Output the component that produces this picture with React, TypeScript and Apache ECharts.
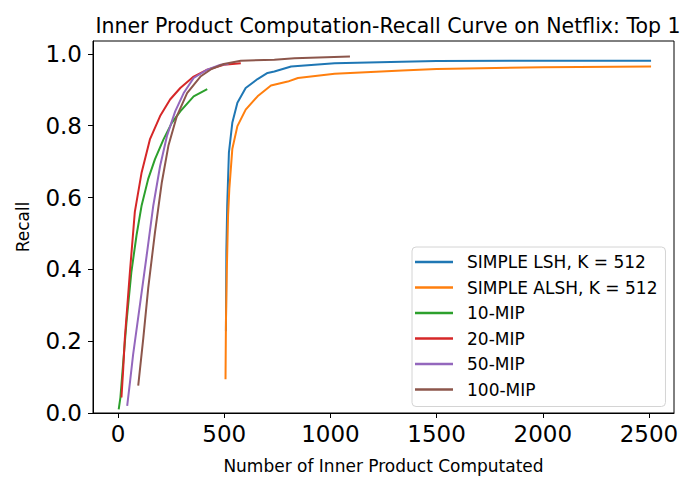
import React, { useEffect, useRef } from "react";
import * as echarts from "echarts";

// Recall vs. number of inner products computed, Netflix top-1
const lshX = [508, 510, 514, 522, 538, 562, 601, 657, 704, 736, 815, 862, 1020, 1337, 1500, 2000, 2510];
const lshY = [0.228, 0.45, 0.578, 0.725, 0.808, 0.864, 0.905, 0.93, 0.947, 0.951, 0.965, 0.967, 0.974, 0.978, 0.98, 0.981, 0.981];

const alshX = [506, 508, 512, 518, 524, 538, 562, 601, 657, 720, 799, 847, 1020, 1337, 1500, 2000, 2510];
const alshY = [0.094, 0.25, 0.394, 0.55, 0.624, 0.735, 0.799, 0.845, 0.882, 0.912, 0.923, 0.933, 0.945, 0.954, 0.958, 0.963, 0.965];

const mip10X = [3, 11, 21, 40, 63, 87, 111, 142, 174, 214, 253, 293, 356, 420];
const mip10Y = [0.01, 0.043, 0.117, 0.255, 0.394, 0.495, 0.578, 0.652, 0.707, 0.762, 0.808, 0.84, 0.882, 0.902];

const mip20X = [16, 24, 32, 56, 79, 111, 150, 198, 245, 293, 356, 420, 498, 578];
const mip20Y = [0.043, 0.12, 0.209, 0.394, 0.56, 0.67, 0.762, 0.827, 0.873, 0.905, 0.937, 0.956, 0.97, 0.974];

const mip50X = [43, 57, 71, 103, 135, 166, 198, 230, 269, 309, 356, 420, 483, 520];
const mip50Y = [0.02, 0.09, 0.163, 0.301, 0.44, 0.578, 0.688, 0.771, 0.84, 0.891, 0.933, 0.956, 0.97, 0.972];

const mip100X = [95, 119, 142, 174, 206, 237, 277, 325, 388, 440, 498, 578, 736, 831, 1092];
const mip100Y = [0.076, 0.209, 0.348, 0.504, 0.642, 0.744, 0.827, 0.891, 0.937, 0.958, 0.972, 0.981, 0.984, 0.988, 0.993];

const seriesNames = [
  "SIMPLE LSH, K = 512",
  "SIMPLE ALSH, K = 512",
  "10-MIP",
  "20-MIP",
  "50-MIP",
  "100-MIP",
];
const seriesColors = ["#1f77b4", "#ff7f0e", "#2ca02c", "#d62728", "#9467bd", "#8c564b"];

const xTicks = [0, 500, 1000, 1500, 2000, 2500];
const yTicks = [0, 0.2, 0.4, 0.6, 0.8, 1.0];

const FONT = "DejaVu Sans";

const zip = (xs: number[], ys: number[]) => xs.map((x, i) => [x, ys[i]]);

export default function App() {
  const ref = useRef<HTMLDivElement>(null);

  useEffect(() => {
    if (!ref.current) return;
    const chart = echarts.init(ref.current, undefined, { renderer: "svg" });
    const curves = [
      zip(lshX, lshY),
      zip(alshX, alshY),
      zip(mip10X, mip10Y),
      zip(mip20X, mip20Y),
      zip(mip50X, mip50Y),
      zip(mip100X, mip100Y),
    ];

    chart.setOption({
      animation: false,
      backgroundColor: "#ffffff",
      textStyle: { fontFamily: FONT },
      title: {
        text: "Inner Product Computation-Recall Curve on Netflix: Top 1",
        left: 383,
        top: 10,
        textAlign: "center",
        textStyle: { fontFamily: FONT, fontSize: 20.5, fontWeight: "normal", color: "#000" },
      },
      grid: {
        left: 93,
        right: 25,
        top: 41,
        bottom: 64,
        show: true,
        borderColor: "#000",
        borderWidth: 1,
        backgroundColor: "transparent",
      },
      legend: {
        orient: "vertical",
        left: 412,
        top: 247,
        data: seriesNames,
        icon: "rect",
        itemWidth: 38,
        itemHeight: 2.5,
        itemGap: 5.5,
        padding: [5, 8, 7, 3],
        borderColor: "#d4d4d4",
        borderWidth: 1,
        borderRadius: 4,
        backgroundColor: "rgba(255,255,255,0.8)",
        textStyle: {
          fontFamily: FONT,
          fontSize: 17,
          color: "#000",
          lineHeight: 20,
          padding: [0, 0, 0, 9],
        },
      },
      xAxis: {
        type: "value",
        min: -118,
        max: 2618,
        name: "Number of Inner Product Computated",
        nameLocation: "middle",
        nameGap: 44,
        nameTextStyle: { fontFamily: FONT, fontSize: 17, color: "#000" },
        axisLine: { show: true, onZero: false, lineStyle: { color: "#000", width: 1 } },
        axisTick: { show: true, length: 5, customValues: xTicks, lineStyle: { color: "#000" } },
        axisLabel: {
          customValues: xTicks,
          fontFamily: FONT,
          fontSize: 23,
          color: "#000",
          margin: 9,
          formatter: (v: number) => String(Math.round(v)),
        },
        splitLine: { show: false },
      },
      yAxis: {
        type: "value",
        min: 0,
        max: 1.036,
        name: "Recall",
        nameLocation: "middle",
        nameGap: 62,
        nameRotate: 90,
        nameTextStyle: { fontFamily: FONT, fontSize: 17, color: "#000" },
        axisLine: { show: true, onZero: false, lineStyle: { color: "#000", width: 1 } },
        axisTick: { show: true, length: 5, customValues: yTicks, lineStyle: { color: "#000" } },
        axisLabel: {
          customValues: yTicks,
          fontFamily: FONT,
          fontSize: 23,
          color: "#000",
          margin: 11,
          formatter: (v: number) => v.toFixed(1),
        },
        splitLine: { show: false },
      },
      series: curves.map((data, i) => ({
        name: seriesNames[i],
        type: "line",
        data,
        showSymbol: false,
        symbol: "none",
        color: seriesColors[i],
        lineStyle: { width: 2, color: seriesColors[i] },
        z: 2 + i,
      })),
    });

    return () => chart.dispose();
  }, []);

  return (
    <div
      ref={ref}
      style={{ position: "fixed", left: 0, top: 0, width: 699, height: 479, background: "#fff" }}
    />
  );
}
